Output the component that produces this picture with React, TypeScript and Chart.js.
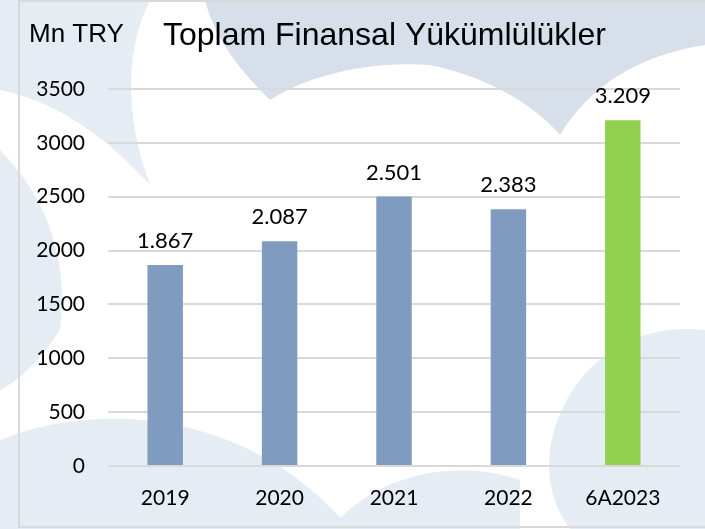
import React, { useEffect, useRef } from "react";
import { Chart, registerables } from "chart.js";

Chart.register(...registerables);

const categories = ["2019", "2020", "2021", "2022", "6A2023"];
const values = [1867, 2087, 2501, 2383, 3209];
const barColors = ["#7f9cc0", "#7f9cc0", "#7f9cc0", "#7f9cc0", "#92d050"];
const yTicks = [0, 500, 1000, 1500, 2000, 2500, 3000, 3500];
const titleText = "Toplam Finansal Yükümlülükler";
const unitText = "Mn TRY";

const fmt = (v: number) => {
  const s = String(v);
  return s.length > 3 ? s.slice(0, s.length - 3) + "." + s.slice(s.length - 3) : s;
};

const bgPlugin = {
  id: "bgShapes",
  beforeDraw(chart: any) {
    const ctx = chart.ctx as CanvasRenderingContext2D;
    const W = chart.width, H = chart.height;
    ctx.save();
    ctx.fillStyle = "#ffffff";
    ctx.fillRect(0, 0, W, H);
    const dark = "#d6dfea";
    const light = "#e6ecf3";
    const shape = (color: string, f: (c: CanvasRenderingContext2D) => void) => {
      ctx.beginPath();
      f(ctx);
      ctx.closePath();
      ctx.fillStyle = color;
      ctx.fill();
    };
    shape(light, (c) => {
      c.moveTo(0, 0); c.lineTo(150, 0);
      c.bezierCurveTo(120, 60, 130, 130, 150, 185);
      c.bezierCurveTo(100, 130, 50, 100, 0, 90);
    });
    shape(dark, (c) => {
      c.moveTo(205, 0); c.lineTo(705, 0); c.lineTo(705, 45);
      c.bezierCurveTo(640, 55, 590, 85, 560, 135);
      c.bezierCurveTo(530, 100, 480, 75, 430, 65);
      c.bezierCurveTo(360, 60, 300, 80, 270, 100);
      c.bezierCurveTo(240, 70, 215, 40, 205, 0);
    });
    shape(light, (c) => {
      c.moveTo(0, 150);
      c.bezierCurveTo(40, 190, 70, 250, 60, 330);
      c.bezierCurveTo(40, 360, 20, 380, 0, 390);
    });
    shape(light, (c) => {
      c.moveTo(0, 440);
      c.bezierCurveTo(100, 400, 250, 410, 350, 529);
      c.lineTo(0, 529);
    });
    shape(light, (c) => {
      c.moveTo(705, 330);
      c.bezierCurveTo(620, 320, 560, 380, 550, 450);
      c.bezierCurveTo(545, 490, 560, 515, 570, 529);
      c.lineTo(705, 529);
    });
    shape(light, (c) => {
      c.moveTo(330, 529);
      c.bezierCurveTo(380, 470, 460, 460, 520, 480);
      c.lineTo(520, 529);
    });
    ctx.strokeStyle = "#d9d9d9";
    ctx.lineWidth = 2;
    ctx.strokeRect(19, 1, W + 10, 526);
    ctx.restore();
  },
  afterDraw(chart: any) {
    const ctx = chart.ctx as CanvasRenderingContext2D;
    ctx.save();
    ctx.fillStyle = "#000000";
    ctx.textAlign = "left";
    ctx.textBaseline = "alphabetic";
    ctx.font = "26px 'Liberation Sans', Arial, sans-serif";
    ctx.fillText(unitText, 29, 42);
    ctx.font = "32px 'Liberation Sans', Arial, sans-serif";
    ctx.fillText(titleText, 163, 45);
    ctx.restore();
  },
};

const labelPlugin = {
  id: "barLabels",
  afterDatasetsDraw(chart: any) {
    const ctx = chart.ctx as CanvasRenderingContext2D;
    const meta = chart.getDatasetMeta(0);
    ctx.save();
    ctx.fillStyle = "#000000";
    ctx.textAlign = "center";
    ctx.textBaseline = "alphabetic";
    ctx.font = "22px Lato, 'Open Sans', sans-serif";
    meta.data.forEach((bar: any, i: number) => {
      ctx.fillText(fmt(values[i]), bar.x, bar.y - 17);
    });
    ctx.restore();
  },
};

export default function App() {
  const ref = useRef<HTMLCanvasElement>(null);
  useEffect(() => {
    document.body.style.margin = "0";
    const chart = new Chart(ref.current!, {
      type: "bar",
      data: {
        labels: categories,
        datasets: [
          {
            data: values,
            backgroundColor: barColors,
            borderWidth: 0,
            barPercentage: 0.31,
            categoryPercentage: 1,
          },
        ],
      },
      options: {
        animation: false,
        responsive: false,
        maintainAspectRatio: false,
        layout: { padding: { top: 89, right: 25, left: 0, bottom: 0 } },
        plugins: { legend: { display: false }, tooltip: { enabled: false }, title: { display: false } },
        scales: {
          x: {
            grid: { display: false, drawTicks: false },
            border: { display: false },
            ticks: { color: "#000", font: { family: "Lato, 'Open Sans', sans-serif", size: 21 }, padding: 20 },
            afterFit: (s: any) => { s.height = 63; },
          },
          y: {
            min: 0,
            max: 3500,
            afterBuildTicks: (s: any) => { s.ticks = yTicks.map((v) => ({ value: v })); },
            grid: { color: "#d9d9d9", lineWidth: 2, drawTicks: false },
            border: { display: false },
            ticks: {
              color: "#000",
              font: { family: "Lato, 'Open Sans', sans-serif", size: 21 },
              padding: 23,
              callback: (v: any) => String(v),
            },
            afterFit: (s: any) => { s.width = 108; },
          },
        },
      },
      plugins: [bgPlugin, labelPlugin],
    });
    return () => chart.destroy();
  }, []);
  return (
    <div style={{ position: "fixed", left: 0, top: 0, width: 705, height: 529 }}>
      <canvas ref={ref} width={705} height={529} style={{ width: 705, height: 529, display: "block" }} />
    </div>
  );
}
